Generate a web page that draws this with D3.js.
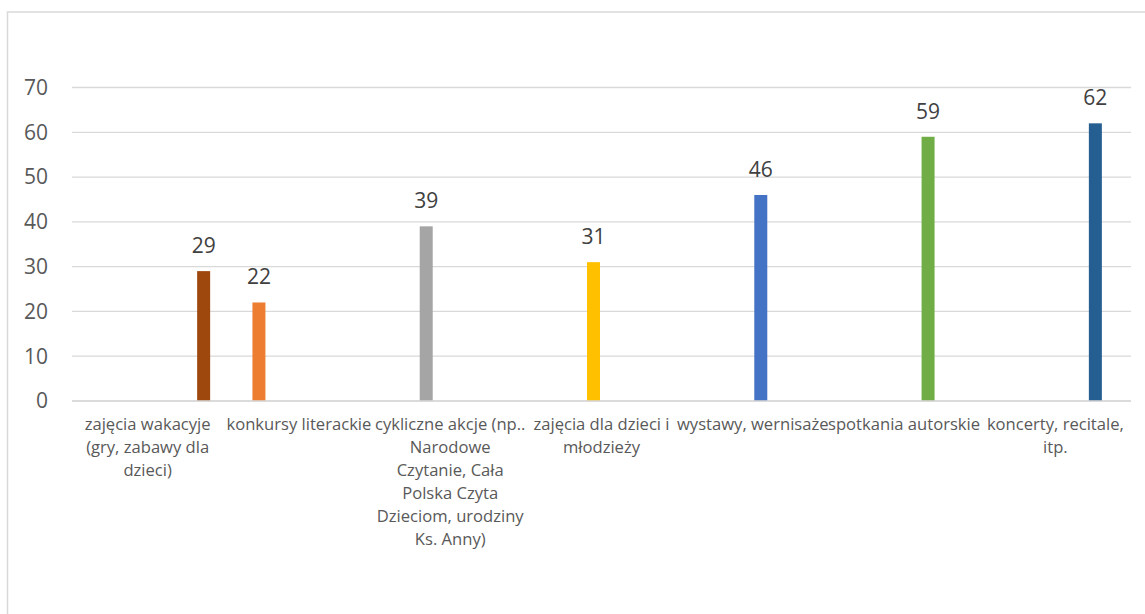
<!DOCTYPE html>
<html>
<head>
<meta charset="utf-8">
<script src="https://cdn.jsdelivr.net/npm/d3@7"></script>
<style>
  html, body { margin: 0; padding: 0; background: #fff; }
  svg { display: block; font-family: "Open Sans", "Noto Sans", sans-serif; }
</style>
</head>
<body>
<svg id="chart" width="1145" height="614"></svg>
<script>
// ---- data ----
const categories = [
  "zajęcia wakacyje\n(gry, zabawy dla\ndzieci)",
  "konkursy literackie",
  "cykliczne akcje (np..\nNarodowe\nCzytanie, Cała\nPolska Czyta\nDzieciom, urodziny\nKs. Anny)",
  "zajęcia dla dzieci i\nmłodzieży",
  "wystawy, wernisaże",
  "spotkania autorskie",
  "koncerty, recitale,\nitp."
];
const values = [29, 22, 39, 31, 46, 59, 62];
const seriesIndex = [7, 1, 2, 3, 4, 5, 6];   // which series each category's bar belongs to (8 series in cluster)
const seriesCount = 8;
const colors = ["#9E480E", "#ED7D31", "#A5A5A5", "#FFC000", "#4472C4", "#70AD47", "#255E91"];
const yTicks = [0, 10, 20, 30, 40, 50, 60, 70];

// ---- layout ----
const svg = d3.select("#chart");
const plot = { left: 72, right: 1131, top: 87.5, bottom: 401 };

svg.append("rect").attr("x", 0).attr("y", 0).attr("width", 1145).attr("height", 614).attr("fill", "#fff");
svg.append("rect")
  .attr("x", 7.5).attr("y", 12).attr("width", 1300).attr("height", 800)
  .attr("fill", "none").attr("stroke", "#D9D9D9").attr("stroke-width", 1.5);

const x = d3.scaleBand().domain(categories).range([plot.left, plot.right]);
const cluster = 128;
const xs = d3.scaleBand().domain(d3.range(seriesCount))
  .range([-cluster / 2, cluster / 2]).paddingInner(0.1875).paddingOuter(0.09375);
const y = d3.scaleLinear().domain([0, 70]).range([plot.bottom, plot.top]);

// gridlines
svg.append("g").selectAll("line").data(yTicks).join("line")
  .attr("x1", plot.left).attr("x2", plot.right)
  .attr("y1", d => y(d)).attr("y2", d => y(d))
  .attr("stroke", "#D9D9D9").attr("stroke-width", 1.3);

// y tick labels
svg.append("g").selectAll("text").data(yTicks).join("text")
  .attr("x", 48).attr("y", d => y(d)).attr("dy", "0.35em")
  .attr("text-anchor", "end").attr("font-size", 21).attr("fill", "#595959")
  .text(d => d);

// bars
const barX = (d, i) => x(d) + x.bandwidth() / 2 + xs(seriesIndex[i]);
svg.append("g").selectAll("rect").data(categories).join("rect")
  .attr("x", (d, i) => barX(d, i))
  .attr("width", xs.bandwidth())
  .attr("y", (d, i) => y(values[i]))
  .attr("height", (d, i) => y(0) - y(values[i]))
  .attr("fill", (d, i) => colors[i]);

// redraw baseline on top
svg.append("line").attr("x1", plot.left).attr("x2", plot.right)
  .attr("y1", y(0)).attr("y2", y(0)).attr("stroke", "#D9D9D9").attr("stroke-width", 1.3);

// data labels
svg.append("g").selectAll("text").data(categories).join("text")
  .attr("x", (d, i) => barX(d, i) + xs.bandwidth() / 2)
  .attr("y", (d, i) => y(values[i]) - 18)
  .attr("text-anchor", "middle").attr("font-size", 21).attr("fill", "#404040")
  .text((d, i) => values[i]);

// category labels
const cat = svg.append("g").selectAll("text").data(categories).join("text")
  .attr("text-anchor", "middle").attr("font-size", 16.6).attr("fill", "#595959")
  .attr("x", d => x(d) + x.bandwidth() / 2)
  .attr("y", 430);
cat.selectAll("tspan").data(d => d.split("\n")).join("tspan")
  .attr("x", function() { return this.parentNode.getAttribute("x"); })
  .attr("y", (d, i) => 430 + i * 23)
  .text(d => d);
</script>
</body>
</html>
